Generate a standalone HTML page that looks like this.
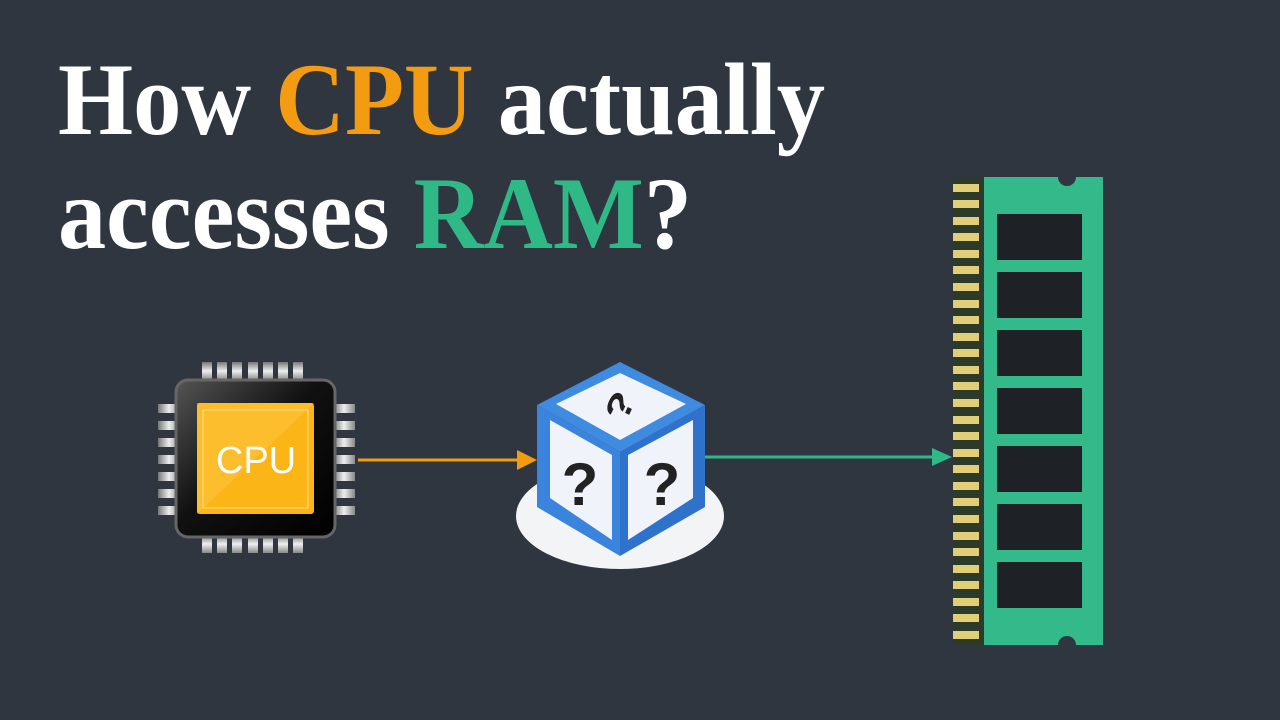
<!DOCTYPE html>
<html><head><meta charset="utf-8"><style>
html,body{margin:0;padding:0;background:#2f3640;}
svg{display:block}
</style></head><body>
<svg width="1280" height="720" viewBox="0 0 1280 720" xmlns="http://www.w3.org/2000/svg">
<defs>
<linearGradient id="pin" x1="0" y1="0" x2="1" y2="0"><stop offset="0" stop-color="#777"/><stop offset="0.5" stop-color="#eee"/><stop offset="1" stop-color="#888"/></linearGradient>
<linearGradient id="pinv" x1="0" y1="0" x2="0" y2="1"><stop offset="0" stop-color="#777"/><stop offset="0.5" stop-color="#eee"/><stop offset="1" stop-color="#888"/></linearGradient>
<linearGradient id="chipb" x1="0" y1="0" x2="1" y2="1"><stop offset="0" stop-color="#555"/><stop offset="0.45" stop-color="#111"/><stop offset="1" stop-color="#000"/></linearGradient>
</defs>
<rect width="1280" height="720" fill="#2f3640"/>
<g font-family="Liberation Serif, serif" font-weight="bold" font-size="103">
<text x="58" y="134" textLength="767" lengthAdjust="spacingAndGlyphs" fill="#ffffff">How <tspan fill="#f39c12">CPU</tspan> actually</text>
<text x="58" y="248" textLength="634" lengthAdjust="spacingAndGlyphs" fill="#ffffff">accesses <tspan fill="#2fb987">RAM</tspan>?</text>
</g>
<g>
<g fill="url(#pinv)">
<rect x="202" y="362" width="10" height="18"/><rect x="217" y="362" width="10" height="18"/><rect x="232" y="362" width="10" height="18"/><rect x="248" y="362" width="10" height="18"/><rect x="263" y="362" width="10" height="18"/><rect x="278" y="362" width="10" height="18"/><rect x="293" y="362" width="10" height="18"/>
<rect x="202" y="535" width="10" height="18"/><rect x="217" y="535" width="10" height="18"/><rect x="232" y="535" width="10" height="18"/><rect x="248" y="535" width="10" height="18"/><rect x="263" y="535" width="10" height="18"/><rect x="278" y="535" width="10" height="18"/><rect x="293" y="535" width="10" height="18"/>
</g>
<g fill="url(#pin)">
<rect x="158" y="404" width="22" height="9"/><rect x="158" y="421" width="22" height="9"/><rect x="158" y="438" width="22" height="9"/><rect x="158" y="455" width="22" height="9"/><rect x="158" y="472" width="22" height="9"/><rect x="158" y="489" width="22" height="9"/><rect x="158" y="506" width="22" height="9"/>
<rect x="333" y="404" width="22" height="9"/><rect x="333" y="421" width="22" height="9"/><rect x="333" y="438" width="22" height="9"/><rect x="333" y="455" width="22" height="9"/><rect x="333" y="472" width="22" height="9"/><rect x="333" y="489" width="22" height="9"/><rect x="333" y="506" width="22" height="9"/>
</g>
<rect x="176" y="380" width="159" height="157" rx="12" fill="url(#chipb)" stroke="#666" stroke-width="3"/>
<rect x="197" y="403" width="117" height="111" rx="3" fill="#fbb516"/>
<polygon points="197,403 314,403 197,514" fill="#ffc844" opacity="0.5"/>
<rect x="203" y="410" width="105" height="98" fill="none" stroke="#ffe08a" stroke-width="1"/>
<text x="256" y="473" text-anchor="middle" font-family="Liberation Sans, sans-serif" font-size="38" fill="#fff">CPU</text>
</g>
<line x1="358" y1="460" x2="520" y2="460" stroke="#f39c12" stroke-width="3"/>
<polygon points="517,450 537,460 517,470" fill="#f39c12"/>
<line x1="705" y1="457" x2="935" y2="457" stroke="#2fb987" stroke-width="3"/>
<polygon points="932,448 952,457 932,466" fill="#2fb987"/>
<ellipse cx="620" cy="516" rx="104" ry="53" fill="#f2f4f6"/>
<polygon points="537,405 620,362 705,405 620,452" fill="#3f8be0"/>
<polygon points="556,404 620,373 686,404 620,440" fill="#f0f4fa"/>
<polygon points="537,405 620,452 620,556 537,507" fill="#3a84dd"/>
<polygon points="550,420 612,455 612,540 550,498" fill="#f0f4fa"/>
<polygon points="620,452 705,405 705,507 620,556" fill="#2f72cc"/>
<polygon points="628,455 693,420 693,498 628,540" fill="#f0f4fa"/>
<g transform="translate(620,406) rotate(-65) scale(1,0.75)">
<text x="0" y="16" font-family="Liberation Sans, sans-serif" font-weight="bold" font-size="46" fill="#222" text-anchor="middle">?</text>
</g>
<text x="580" y="505" font-family="Liberation Sans, sans-serif" font-weight="bold" font-size="60" fill="#222" text-anchor="middle">?</text>
<text x="662" y="505" font-family="Liberation Sans, sans-serif" font-weight="bold" font-size="60" fill="#222" text-anchor="middle">?</text>
<rect x="953" y="177" width="31" height="468" fill="#2d3a2a"/>
<path d="M984,177 H1058 A9,9 0 0 0 1076,177 H1103 V645 H1076 A9,9 0 0 0 1058,645 H984 Z" fill="#34b98a"/>
<g fill="#1e2226">
<rect x="997" y="214" width="85" height="46"/><rect x="997" y="272" width="85" height="46"/><rect x="997" y="330" width="85" height="46"/><rect x="997" y="388" width="85" height="46"/><rect x="997" y="446" width="85" height="46"/><rect x="997" y="504" width="85" height="46"/><rect x="997" y="562" width="85" height="46"/>
</g>
<g fill="#e0cf78">
<rect x="953" y="184" width="26" height="8"/><rect x="953" y="200" width="26" height="8"/><rect x="953" y="217" width="26" height="8"/><rect x="953" y="233" width="26" height="8"/><rect x="953" y="250" width="26" height="8"/><rect x="953" y="266" width="26" height="8"/><rect x="953" y="283" width="26" height="8"/><rect x="953" y="300" width="26" height="8"/><rect x="953" y="316" width="26" height="8"/><rect x="953" y="333" width="26" height="8"/><rect x="953" y="349" width="26" height="8"/><rect x="953" y="366" width="26" height="8"/><rect x="953" y="382" width="26" height="8"/><rect x="953" y="399" width="26" height="8"/><rect x="953" y="416" width="26" height="8"/><rect x="953" y="432" width="26" height="8"/><rect x="953" y="449" width="26" height="8"/><rect x="953" y="465" width="26" height="8"/><rect x="953" y="482" width="26" height="8"/><rect x="953" y="498" width="26" height="8"/><rect x="953" y="515" width="26" height="8"/><rect x="953" y="532" width="26" height="8"/><rect x="953" y="548" width="26" height="8"/><rect x="953" y="565" width="26" height="8"/><rect x="953" y="581" width="26" height="8"/><rect x="953" y="598" width="26" height="8"/><rect x="953" y="614" width="26" height="8"/><rect x="953" y="631" width="26" height="8"/>
</g>
</svg>
</body></html>
